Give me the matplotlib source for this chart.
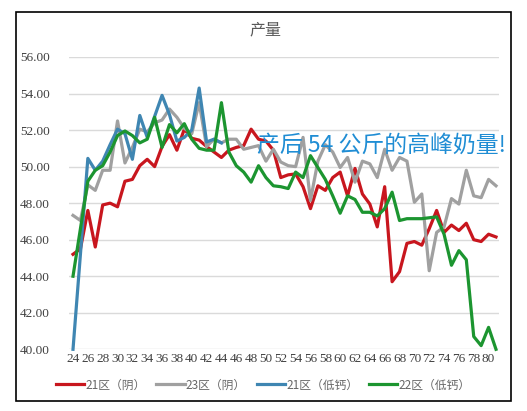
import matplotlib
matplotlib.use("Agg")
import matplotlib.pyplot as plt
from matplotlib.patches import Rectangle

plt.rcParams["font.family"] = ["Noto Sans CJK SC", "DejaVu Sans"]

# days after calving
days = list(range(24, 82))

red_21_yin = [45.2, 45.5, 47.6, 45.6, 47.9, 48.0, 47.8, 49.2, 49.3, 50.05,
              50.4, 50.0, 51.1, 51.75, 50.9, 52.05, 51.55, 51.45, 51.1, 50.8,
              50.5, 50.9, 51.05, 51.15, 52.05, 51.5, 51.4, 50.9, 49.4, 49.55,
              49.6, 48.9, 47.7, 48.95, 48.7, 49.4, 49.7, 48.4, 49.9, 48.5,
              47.95, 46.7, 48.9, 43.7, 44.25, 45.8, 45.9, 45.7, 46.6, 47.6,
              46.4, 46.8, 46.5, 46.9, 46.0, 45.9, 46.3, 46.15]

gray_23_yin = [47.33, 47.05, 49.0, 48.7, 49.8, 49.8, 52.5, 50.2, 51.05, 52.05,
               51.9, 52.4, 52.55, 53.15, 52.7, 52.1, 51.8, 53.5, 51.1, 51.5,
               51.3, 51.5, 51.5, 50.95, 51.05, 51.15, 50.3, 50.95, 50.25, 50.05,
               50.0, 51.6, 48.15, 50.3, 51.2, 50.8, 49.95, 50.5, 49.15, 50.3,
               50.15, 49.4, 50.95, 49.8, 50.5, 50.3, 48.05, 48.5, 44.3, 46.4,
               46.7, 48.25, 47.95, 49.8, 48.4, 48.3, 49.3, 48.95]

blue_21_lowca = [40.0, 45.2, 50.45, 49.8, 50.3, 51.2, 52.05, 51.8, 50.4, 52.8,
                 51.6, 52.75, 53.9, 52.85, 51.4, 51.6, 52.0, 54.3, 51.35, 51.5,
                 51.3]

green_22_lowca = [44.0, 46.6, 49.2, 49.8, 50.05, 50.8, 51.7, 51.95, 51.7, 51.3,
                  51.5, 52.7, 51.05, 52.3, 51.85, 52.35, 51.5, 51.0, 50.9, 50.9,
                  53.5, 50.8, 50.05, 49.7, 49.15, 50.05, 49.4, 48.95, 48.9, 48.8,
                  49.7, 49.4, 50.6, 49.95, 49.3, 48.4, 47.45, 48.4, 48.2, 47.5,
                  47.5, 47.3, 47.7, 48.6, 47.05, 47.15, 47.15, 47.15, 47.2, 47.25,
                  46.3, 44.6, 45.4, 44.9, 40.7, 40.2, 41.2, 40.0]

series_labels = ["21区（阴）", "23区（阴）", "21区（低钙）", "22区（低钙）"]
y_ticks = [40, 42, 44, 46, 48, 50, 52, 54, 56]
x_ticks = list(range(24, 81, 2))

W, H = 527, 411
fig = plt.figure(figsize=(W / 100, H / 100), dpi=100)
ax = fig.add_axes([69 / W, 1 - 349.3 / H, (499 - 69) / W, (349.3 - 57) / H])

lw = 2.3
ax.plot(days, red_21_yin, color="#C8161E", lw=lw, label=series_labels[0], clip_on=False)
ax.plot(days, gray_23_yin, color="#A0A0A0", lw=lw, label=series_labels[1], clip_on=False)
ax.plot(days[:len(blue_21_lowca)], blue_21_lowca, color="#3F86B2", lw=lw,
        label=series_labels[2], clip_on=False)
ax.plot(days, green_22_lowca, color="#1C9530", lw=lw, label=series_labels[3], clip_on=False)

ax.set_xlim(24 - 4 / 7.41, 81 + 3 / 7.41)
ax.set_ylim(40, 56)
ax.set_yticks(y_ticks)
ax.set_yticklabels([f"{v}.00" for v in y_ticks], family="Liberation Serif",
                   fontsize=9.5, color="#404040")
ax.set_xticks(x_ticks)
ax.set_xticklabels([str(v) for v in x_ticks], family="Liberation Serif",
                   fontsize=9.5, color="#404040")
ax.tick_params(length=0)
ax.tick_params(axis="y", pad=14)
ax.tick_params(axis="x", pad=3)
for s in ax.spines.values():
    s.set_visible(False)
ax.yaxis.grid(True, color="#DADADA", lw=1)
ax.set_axisbelow(True)

fig.text(265 / W, 1 - 30 / H, "产量", ha="center", va="center",
         fontsize=11.5, color="#595959")
fig.text(257 / W, 1 - 145 / H, "产后 54 公斤的高峰奶量!", ha="left", va="center",
         fontsize=16.5, color="#1F8DD4")

fig.legend(loc="center", bbox_to_anchor=(263 / W, 1 - 385 / H), ncol=4,
           frameon=False, fontsize=8.5, handlelength=2.4, handletextpad=0.1,
           columnspacing=0.9, labelcolor="#666666")

fig.patches.append(Rectangle((16 / W, 1 - 401 / H), (511 - 16) / W, (401 - 12) / H,
                             transform=fig.transFigure, fill=False,
                             edgecolor="black", lw=1.2))

fig.savefig("out.png", dpi=100)
